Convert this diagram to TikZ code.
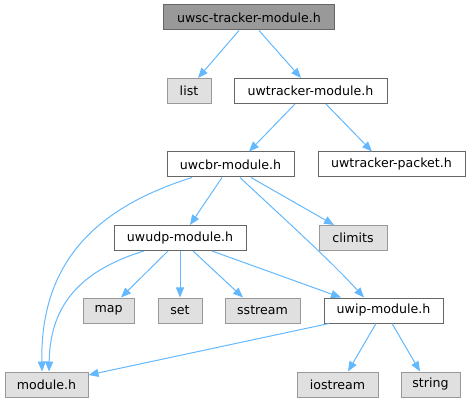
\documentclass[tikz,border=0pt]{standalone}
\usepackage{fontspec}
\setmainfont{DejaVu Sans}
\usetikzlibrary{arrows.meta}
\definecolor{edgec}{HTML}{63B8FF}
\definecolor{sysfill}{HTML}{E0E0E0}
\definecolor{sysdraw}{HTML}{999999}
\definecolor{topfill}{HTML}{999999}
\definecolor{usrdraw}{HTML}{666666}
\tikzset{
  base/.style={rectangle, inner sep=0pt, minimum height=25pt, font=\fontsize{12.6}{15}\selectfont, line width=1pt},
  topbox/.style={base, fill=topfill, draw=usrdraw},
  usrbox/.style={base, fill=white, draw=usrdraw},
  sysbox/.style={base, fill=sysfill, draw=sysdraw},
  dep/.style={draw=edgec, line width=1pt, -{Triangle[length=10pt,width=8pt,fill=edgec]}}
}
\begin{document}
\begin{tikzpicture}[x=1pt,y=-1pt]
\useasboundingbox (0,0) rectangle (471,403);
\node[topbox, minimum width=171pt] (top) at (249,17.5) {uwsc-tracker-module.h};
\node[sysbox, minimum width=44pt] (list) at (189,91) {list};
\node[usrbox, minimum width=153pt] (trk) at (310.5,91) {uwtracker-module.h};
\node[usrbox, minimum width=127pt] (cbr) at (230.5,164.5) {uwcbr-module.h};
\node[usrbox, minimum width=147pt] (pkt) at (391.5,164.5) {uwtracker-packet.h};
\node[usrbox, minimum width=132pt] (udp) at (180,238) {uwudp-module.h};
\node[sysbox, minimum width=68pt] (clim) at (353,238) {climits};
\node[sysbox, minimum width=51pt] (map) at (108.5,310.5) {map};
\node[sysbox, minimum width=44pt] (set) at (180,310.5) {set};
\node[sysbox, minimum width=75pt] (sst) at (262.5,310.5) {sstream};
\node[usrbox, minimum width=119pt] (ip) at (383.5,310.5) {uwip-module.h};
\node[sysbox, minimum width=83pt] (mod) at (46.5,384.5) {module.h};
\node[sysbox, minimum width=81pt] (ios) at (337.5,384.5) {iostream};
\node[sysbox, minimum width=59pt] (str) at (430.5,384.5) {string};

\draw[dep] (top.south -| 239,0) -- (list.north -| 198,0);
\draw[dep] (top.south -| 259,0) -- (trk.north -| 301,0);
\draw[dep] (trk.south -| 295,0) -- (cbr.north -| 249,0);
\draw[dep] (trk.south -| 326,0) -- (pkt.north -| 372,0);
\draw[dep] (cbr.south -| 222,0) -- (udp.north -| 190,0);
\draw[dep] (cbr.south -| 251,0) -- (clim.north -| 334,0);
\draw[dep] (cbr.south -| 240,0) .. controls (280,215) and (330,260) .. (ip.north -| 364,0);
\draw[dep] (cbr.south -| 192,0) .. controls (105,205) and (40,255) .. (mod.north -| 42,0);
\draw[dep] (udp.south -| 168,0) -- (map.north -| 121,0);
\draw[dep] (udp.south -| 180,0) -- (set.north);
\draw[dep] (udp.south -| 193,0) -- (sst.north -| 243,0);
\draw[dep] (udp.south -| 212,0) -- (ip.north -| 341,0);
\draw[dep] (udp.south -| 144,0) .. controls (75,272) and (50,310) .. (mod.north -| 49,0);
\draw[dep] (ip.south -| 329,0) -- (mod.east |- 0,375);
\draw[dep] (ip.south -| 376,0) -- (ios.north -| 348,0);
\draw[dep] (ip.south -| 392,0) -- (str.north -| 420,0);
\end{tikzpicture}
\end{document}
